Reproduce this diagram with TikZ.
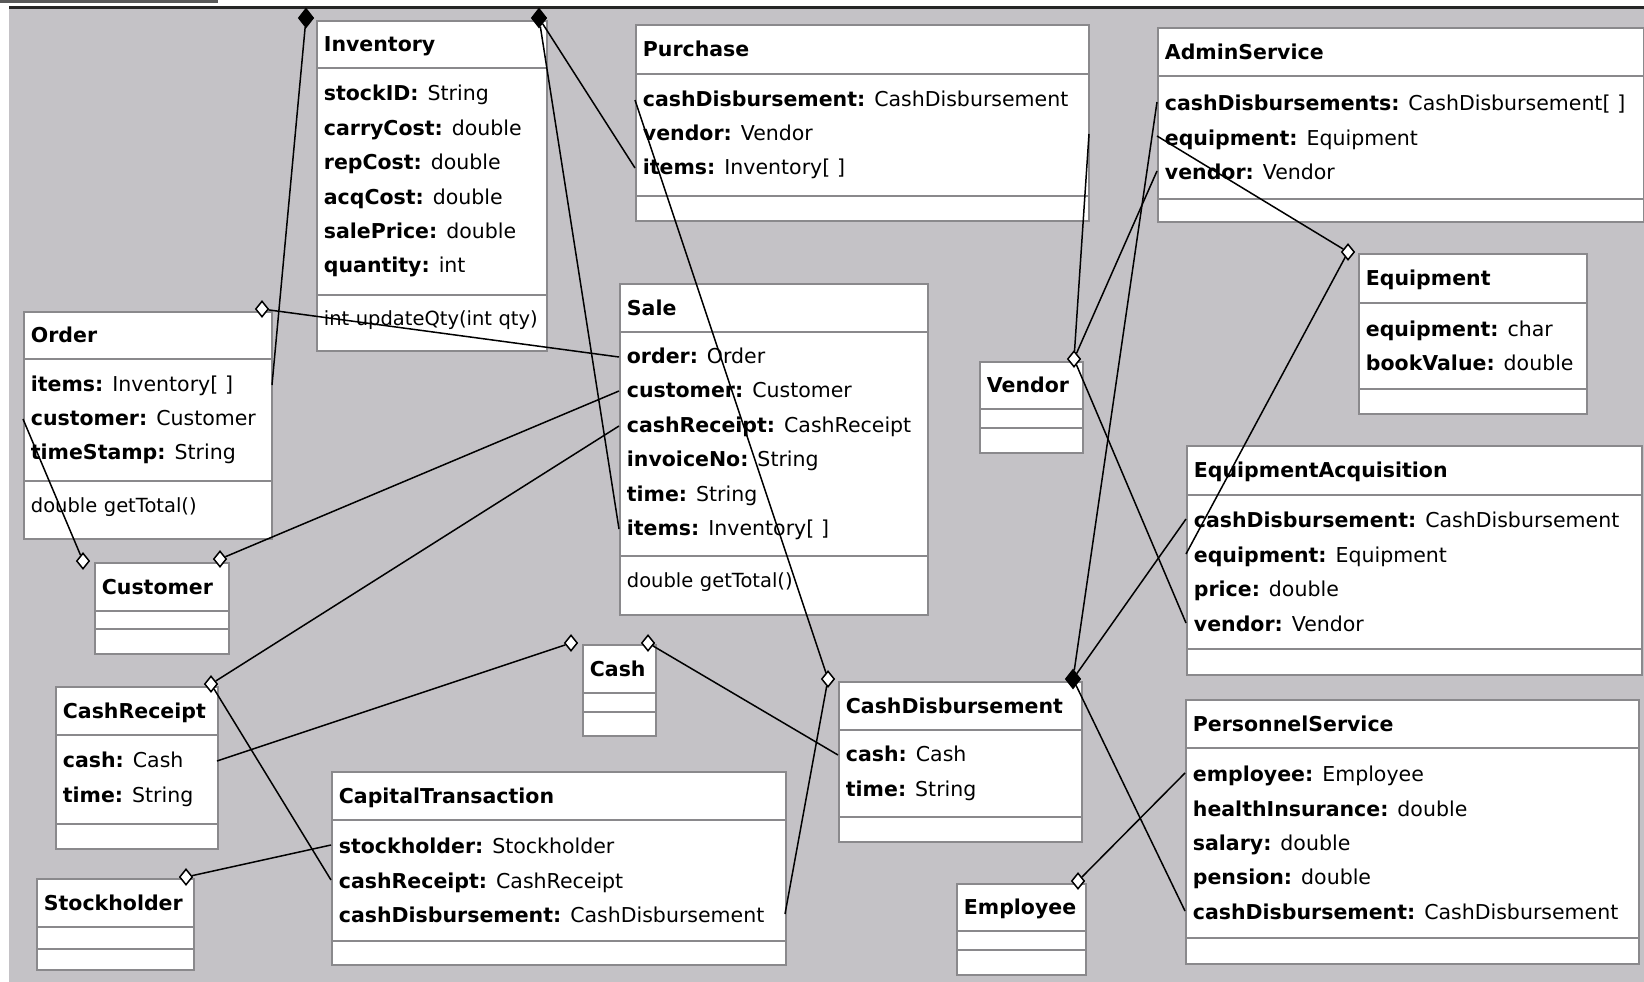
\documentclass[tikz,border=0pt]{standalone}
\usepackage{fontspec}
\setmainfont{DejaVu Sans}
\usetikzlibrary{shapes.geometric}

\definecolor{canvas}{RGB}{196,194,198}
\definecolor{boxline}{RGB}{138,137,140}

\newcommand{\field}[2]{\textbf{#1:}\hspace{9pt}#2}

\begin{document}
\begin{tikzpicture}[x=1pt, y=-1pt,
    cbox/.style={draw=boxline, line width=1.8pt, fill=white, anchor=north west, inner xsep=7pt, inner ysep=0pt, align=left, font=\fontsize{20.5}{34.4}\selectfont},
    headbox/.style={cbox, font=\fontsize{20.5}{24}\selectfont\bfseries, text height=15pt, text depth=0pt},
    methodbox/.style={cbox, font=\fontsize{19.5}{24}\selectfont, text height=15pt, text depth=10pt},
    openmark/.style={diamond, draw=black, fill=white, line width=1.5pt, inner sep=0pt, minimum width=13pt, minimum height=16pt},
    fullmark/.style={diamond, draw=black, fill=black, line width=1.5pt, inner sep=0pt, minimum width=15pt, minimum height=19pt},
    link/.style={draw=black, line width=1.5pt}]

% frame
\useasboundingbox (0,0) rectangle (1644,982);
\fill[white] (0,0) rectangle (1644,982);
\fill[canvas] (9,9) rectangle (1644,982);
\fill[black!65] (0,0) rectangle (218,3);
\fill[black!85] (9,6) rectangle (1644,9);

% classes
\node at (316,20) [headbox, text width=216pt, minimum height=47pt] (inventory) {Inventory};
\node at (316,67) [cbox, text width=216pt, minimum height=227pt] (inventory-a) {\field{stockID}{String}\\\field{carryCost}{double}\\\field{repCost}{double}\\\field{acqCost}{double}\\\field{salePrice}{double}\\\field{quantity}{int}};
\node at (316,294) [methodbox, text width=216pt, minimum height=56pt] (inventory-m) {int updateQty(int qty)};

\node at (635,24) [headbox, text width=439pt, minimum height=49pt] (purchase) {Purchase};
\node at (635,73) [cbox, text width=439pt, minimum height=122pt] (purchase-a) {\field{cashDisbursement}{CashDisbursement}\\\field{vendor}{Vendor}\\\field{items}{Inventory[\ ]}};
\node at (635,195) [cbox, text width=439pt, minimum height=25pt] (purchase-m) {};

\node at (1157,27) [headbox, text width=472pt, minimum height=48pt] (admin) {AdminService};
\node at (1157,75) [cbox, text width=472pt, minimum height=123pt] (admin-a) {\field{cashDisbursements}{CashDisbursement[\ ]}\\\field{equipment}{Equipment}\\\field{vendor}{Vendor}};
\node at (1157,198) [cbox, text width=472pt, minimum height=23pt] (admin-m) {};

\node at (1358,253) [headbox, text width=214pt, minimum height=49pt] (equipment) {Equipment};
\node at (1358,302) [cbox, text width=214pt, minimum height=86pt] (equipment-a) {\field{equipment}{char}\\\field{bookValue}{double}};
\node at (1358,388) [cbox, text width=214pt, minimum height=25pt] (equipment-m) {};

\node at (23,311) [headbox, text width=234pt, minimum height=47pt] (order) {Order};
\node at (23,358) [cbox, text width=234pt, minimum height=122pt] (order-a) {\field{items}{Inventory[\ ]}\\\field{customer}{Customer}\\\field{timeStamp}{String}};
\node at (23,480) [methodbox, text width=234pt, minimum height=58pt] (order-m) {double getTotal()};

\node at (619,283) [headbox, text width=294pt, minimum height=48pt] (sale) {Sale};
\node at (619,331) [cbox, text width=294pt, minimum height=224pt] (sale-a) {\field{order}{Order}\\\field{customer}{Customer}\\\field{cashReceipt}{CashReceipt}\\\field{invoiceNo}{String}\\\field{time}{String}\\\field{items}{Inventory[\ ]}};
\node at (619,555) [methodbox, text width=294pt, minimum height=59pt] (sale-m) {double getTotal()};

\node at (979,361) [headbox, text width=89pt, minimum height=47pt] (vendor) {Vendor};
\node at (979,408) [cbox, text width=89pt, minimum height=19pt] (vendor-a) {};
\node at (979,427) [cbox, text width=89pt, minimum height=25pt] (vendor-m) {};

\node at (94,562) [headbox, text width=120pt, minimum height=48pt] (customer) {Customer};
\node at (94,610) [cbox, text width=120pt, minimum height=18pt] (customer-a) {};
\node at (94,628) [cbox, text width=120pt, minimum height=25pt] (customer-m) {};

\node at (1186,445) [headbox, text width=441pt, minimum height=49pt] (eacq) {EquipmentAcquisition};
\node at (1186,494) [cbox, text width=441pt, minimum height=154pt] (eacq-a) {\field{cashDisbursement}{CashDisbursement}\\\field{equipment}{Equipment}\\\field{price}{double}\\\field{vendor}{Vendor}};
\node at (1186,648) [cbox, text width=441pt, minimum height=26pt] (eacq-m) {};

\node at (55,686) [headbox, text width=148pt, minimum height=48pt] (creceipt) {CashReceipt};
\node at (55,734) [cbox, text width=148pt, minimum height=89pt] (creceipt-a) {\field{cash}{Cash}\\\field{time}{String}};
\node at (55,823) [cbox, text width=148pt, minimum height=25pt] (creceipt-m) {};

\node at (582,644) [headbox, text width=59pt, minimum height=48pt] (cash) {Cash};
\node at (582,692) [cbox, text width=59pt, minimum height=19pt] (cash-a) {};
\node at (582,711) [cbox, text width=59pt, minimum height=24pt] (cash-m) {};

\node at (838,681) [headbox, text width=229pt, minimum height=48pt] (cdisb) {CashDisbursement};
\node at (838,729) [cbox, text width=229pt, minimum height=87pt] (cdisb-a) {\field{cash}{Cash}\\\field{time}{String}};
\node at (838,816) [cbox, text width=229pt, minimum height=25pt] (cdisb-m) {};

\node at (1185,699) [headbox, text width=439pt, minimum height=48pt] (personnel) {PersonnelService};
\node at (1185,747) [cbox, text width=439pt, minimum height=190pt] (personnel-a) {\field{employee}{Employee}\\\field{healthInsurance}{double}\\\field{salary}{double}\\\field{pension}{double}\\\field{cashDisbursement}{CashDisbursement}};
\node at (1185,937) [cbox, text width=439pt, minimum height=26pt] (personnel-m) {};

\node at (331,771) [headbox, text width=440pt, minimum height=48pt] (captx) {CapitalTransaction};
\node at (331,819) [cbox, text width=440pt, minimum height=121pt] (captx-a) {\field{stockholder}{Stockholder}\\\field{cashReceipt}{CashReceipt}\\\field{cashDisbursement}{CashDisbursement}};
\node at (331,940) [cbox, text width=440pt, minimum height=24pt] (captx-m) {};

\node at (36,878) [headbox, text width=143pt, minimum height=48pt] (stockholder) {Stockholder};
\node at (36,926) [cbox, text width=143pt, minimum height=22pt] (stockholder-a) {};
\node at (36,948) [cbox, text width=143pt, minimum height=21pt] (stockholder-m) {};

\node at (956,883) [headbox, text width=115pt, minimum height=47pt] (employee) {Employee};
\node at (956,930) [cbox, text width=115pt, minimum height=19pt] (employee-a) {};
\node at (956,949) [cbox, text width=115pt, minimum height=25pt] (employee-m) {};

% attribute ends
\coordinate (order-items) at (272,385);
\coordinate (order-cust) at (23,419);
\coordinate (purchase-cdis) at (635,100);
\coordinate (purchase-vend) at (1089,134);
\coordinate (purchase-items) at (635,168);
\coordinate (admin-cdis) at (1157,102);
\coordinate (admin-equip) at (1157,136);
\coordinate (admin-vend) at (1157,171);
\coordinate (sale-order) at (619,357);
\coordinate (sale-cust) at (619,391);
\coordinate (sale-crec) at (619,426);
\coordinate (sale-items) at (619,529);
\coordinate (eacq-cdis) at (1186,519);
\coordinate (eacq-equip) at (1186,554);
\coordinate (eacq-vend) at (1186,623);
\coordinate (creceipt-cash) at (217,761);
\coordinate (cdisb-cash) at (838,755);
\coordinate (personnel-empl) at (1185,773);
\coordinate (personnel-cdis) at (1185,911);
\coordinate (captx-stock) at (331,845);
\coordinate (captx-crec) at (331,880);
\coordinate (captx-cdis) at (785,914);

% association ends
\node at (306,18) [fullmark] (inv-l) {};
\node at (539,18) [fullmark] (inv-r) {};
\node at (262,309) [openmark] (order-o) {};
\node at (83,561) [openmark] (cust-l) {};
\node at (220,559) [openmark] (cust-r) {};
\node at (211,684) [openmark] (crec-o) {};
\node at (571,643) [openmark] (cash-l) {};
\node at (648,643) [openmark] (cash-r) {};
\node at (186,877) [openmark] (stock-o) {};
\node at (828,679) [openmark] (cdis-o) {};
\node at (1073,679) [fullmark] (cdis-f) {};
\node at (1074,359) [openmark] (vend-o) {};
\node at (1348,252) [openmark] (equip-o) {};
\node at (1078,881) [openmark] (empl-o) {};

% links
\draw[link] (inv-l) -- (order-items);
\draw[link] (inv-r) -- (purchase-items);
\draw[link] (inv-r) -- (sale-items);
\draw[link] (order-o) -- (sale-order);
\draw[link] (cust-r) -- (sale-cust);
\draw[link] (cust-l) -- (order-cust);
\draw[link] (crec-o) -- (sale-crec);
\draw[link] (crec-o) -- (captx-crec);
\draw[link] (cash-l) -- (creceipt-cash);
\draw[link] (cash-r) -- (cdisb-cash);
\draw[link] (stock-o) -- (captx-stock);
\draw[link] (cdis-o) -- (purchase-cdis);
\draw[link] (cdis-o) -- (captx-cdis);
\draw[link] (cdis-f) -- (admin-cdis);
\draw[link] (cdis-f) -- (eacq-cdis);
\draw[link] (cdis-f) -- (personnel-cdis);
\draw[link] (vend-o) -- (purchase-vend);
\draw[link] (vend-o) -- (admin-vend);
\draw[link] (vend-o) -- (eacq-vend);
\draw[link] (equip-o) -- (admin-equip);
\draw[link] (equip-o) -- (eacq-equip);
\draw[link] (empl-o) -- (personnel-empl);

\end{tikzpicture}
\end{document}
